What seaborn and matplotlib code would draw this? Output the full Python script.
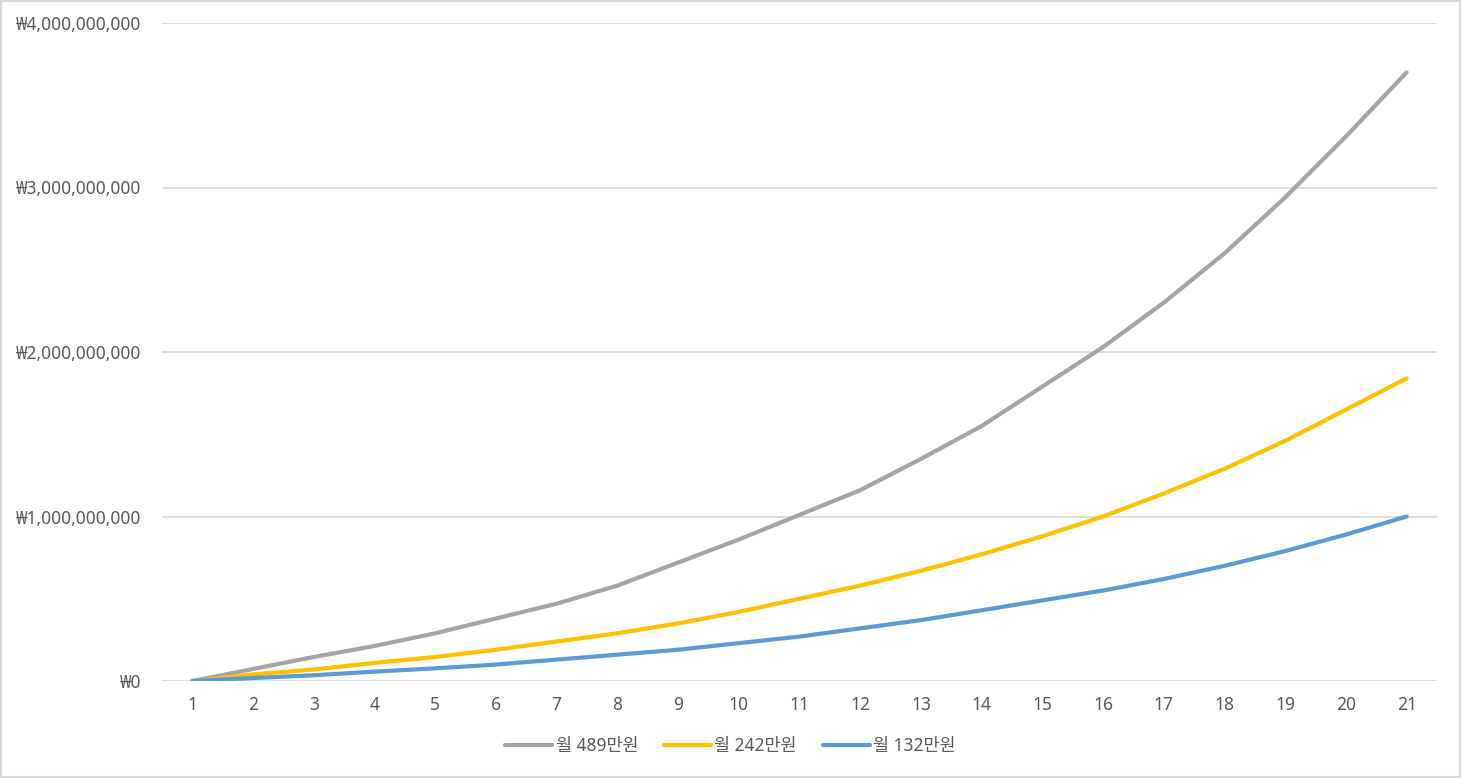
import pandas as pd
import matplotlib
matplotlib.use("Agg")
import matplotlib.pyplot as plt
import seaborn as sns
from matplotlib.patches import Rectangle
from matplotlib.ticker import FuncFormatter

# 연차 (1~21)
years = list(range(1, 22))

# 누적 금액 (원) - 그림에서 읽은 값
won_489 = [0.00e9, 0.073e9, 0.146e9, 0.213e9, 0.29e9, 0.38e9, 0.47e9, 0.58e9, 0.72e9, 0.86e9,
           1.01e9, 1.16e9, 1.35e9, 1.55e9, 1.79e9, 2.03e9, 2.30e9, 2.60e9, 2.94e9, 3.31e9, 3.70e9]
won_242 = [0.00e9, 0.04e9, 0.07e9, 0.11e9, 0.146e9, 0.19e9, 0.24e9, 0.29e9, 0.35e9, 0.42e9,
           0.50e9, 0.58e9, 0.67e9, 0.77e9, 0.88e9, 1.00e9, 1.14e9, 1.29e9, 1.46e9, 1.65e9, 1.84e9]
won_132 = [0.00e9, 0.018e9, 0.035e9, 0.057e9, 0.077e9, 0.10e9, 0.13e9, 0.16e9, 0.19e9, 0.23e9,
           0.27e9, 0.32e9, 0.37e9, 0.43e9, 0.49e9, 0.55e9, 0.62e9, 0.70e9, 0.79e9, 0.89e9, 1.00e9]

series_names = ["월 489만원", "월 242만원", "월 132만원"]
colors = ["#A5A5A5", "#FFC000", "#5B9BD5"]

df = pd.DataFrame({
    "year": years * 3,
    "amount": won_489 + won_242 + won_132,
    "series": [series_names[0]] * 21 + [series_names[1]] * 21 + [series_names[2]] * 21,
})

sns.set_style("white")
plt.rcParams["font.family"] = ["Noto Sans", "Noto Sans CJK KR", "DejaVu Sans"]
text_color = "#595959"
fs = 12.5

fig = plt.figure(figsize=(14.61, 7.78), dpi=100)
ax = fig.add_axes([162 / 1461, 97 / 778, (1437 - 162) / 1461, (681 - 23) / 778])

sns.lineplot(data=df, x="year", y="amount", hue="series", hue_order=series_names,
             palette=colors, linewidth=3.0, ax=ax, legend=True)

ax.set_xlim(0.5, 21.5)
ax.set_ylim(0, 4e9)
ax.set_xticks(years)
ax.set_yticks([0, 1e9, 2e9, 3e9, 4e9])
ax.yaxis.set_major_formatter(FuncFormatter(lambda v, p: "₩{:,.0f}".format(v)))
ax.set_xlabel("")
ax.set_ylabel("")
ax.grid(axis="y", color="#D9D9D9", linewidth=1.2)
ax.set_axisbelow(True)
for s in ax.spines.values():
    s.set_visible(False)
ax.tick_params(axis="y", length=0, pad=15, labelsize=fs, labelcolor=text_color)
ax.tick_params(axis="x", length=0, pad=10.5, labelsize=fs, labelcolor=text_color)

handles, labels = ax.get_legend_handles_labels()
ax.get_legend().remove()
leg = fig.legend(handles, labels, loc="center", bbox_to_anchor=(0.5, 0.041), ncol=3,
                 frameon=False, fontsize=fs, handlelength=2.7, handletextpad=0.2,
                 columnspacing=1.5)
for t in leg.get_texts():
    t.set_color(text_color)
for line in leg.get_lines():
    line.set_linewidth(3.0)

# 바깥 테두리
fig.patches.append(Rectangle((0.001, 0.001), 0.998, 0.998, transform=fig.transFigure,
                             fill=False, edgecolor="#D9D9D9", linewidth=1.5))

fig.savefig("out.png", dpi=100)
